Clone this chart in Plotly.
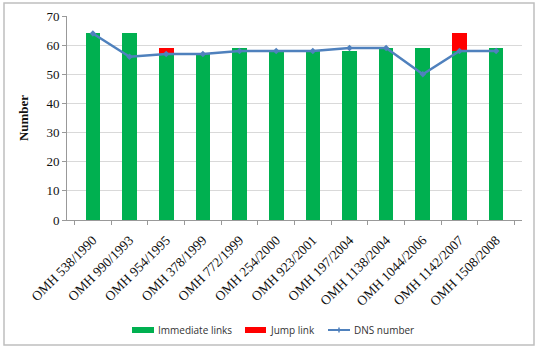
import plotly.graph_objects as go

categories = ["OMH 538/1990", "OMH 990/1993", "OMH 954/1995", "OMH 378/1999",
              "OMH 772/1999", "OMH 254/2000", "OMH 923/2001", "OMH 197/2004",
              "OMH 1138/2004", "OMH 1044/2006", "OMH 1142/2007", "OMH 1508/2008"]
immediate_links = [64, 64, 57, 57, 59, 58, 58, 58, 59, 59, 58, 59]
jump_link = [0, 0, 2, 0, 0, 0, 0, 0, 0, 0, 6, 0]
dns_number = [64, 56, 57, 57, 58, 58, 58, 59, 59, 50, 58, 58]
y_ticks = [0, 10, 20, 30, 40, 50, 60, 70]
legend_names = ["Immediate links", "Jump link", "DNS number"]
colors = ["#00B050", "#FF0000", "#4F81BD"]

L, R, T, B, W, H = 67, 24, 16, 130, 546, 350
pw, ph = W - L - R, H - T - B

def px(x):
    return (x - L) / pw

def py(y):
    return (H - B - y) / ph

fig = go.Figure()
fig.add_trace(go.Bar(x=categories, y=immediate_links, name=legend_names[0],
                     marker=dict(color=colors[0], line=dict(width=0))))
fig.add_trace(go.Bar(x=categories, y=jump_link, name=legend_names[1],
                     marker=dict(color=colors[1], line=dict(width=0))))
fig.add_trace(go.Scatter(x=categories, y=dns_number, name=legend_names[2], mode="lines+markers",
                         line=dict(color=colors[2], width=2.5),
                         marker=dict(symbol="diamond", size=5, color=colors[2])))

shapes = [dict(type="rect", xref="paper", yref="paper", x0=px(4), x1=px(534), y0=py(345), y1=py(3),
               line=dict(color="#BFBFBF", width=1.5), layer="below")]
annotations = []
legend_font = dict(family="Open Sans", size=10, color="#333")
# custom legend
ly = 330
shapes.append(dict(type="rect", xref="paper", yref="paper", x0=px(132), x1=px(154),
                   y0=py(ly + 3), y1=py(ly - 3), fillcolor=colors[0], line=dict(width=0)))
annotations.append(dict(text=legend_names[0], xref="paper", yref="paper", x=px(156), y=py(ly),
                        xanchor="left", yanchor="middle", showarrow=False, font=legend_font))
shapes.append(dict(type="rect", xref="paper", yref="paper", x0=px(245), x1=px(266),
                   y0=py(ly + 3), y1=py(ly - 3), fillcolor=colors[1], line=dict(width=0)))
annotations.append(dict(text=legend_names[1], xref="paper", yref="paper", x=px(268), y=py(ly),
                        xanchor="left", yanchor="middle", showarrow=False, font=legend_font))
shapes.append(dict(type="line", xref="paper", yref="paper", x0=px(328), x1=px(350),
                   y0=py(ly), y1=py(ly), line=dict(color=colors[2], width=2)))
shapes.append(dict(type="line", xref="paper", yref="paper", x0=px(339), x1=px(339),
                   y0=py(ly + 2.5), y1=py(ly - 2.5), line=dict(color=colors[2], width=1.5)))
annotations.append(dict(text=legend_names[2], xref="paper", yref="paper", x=px(352), y=py(ly),
                        xanchor="left", yanchor="middle", showarrow=False, font=legend_font))

fig.update_layout(
    width=W, height=H,
    barmode="stack", bargap=0.6,
    margin=dict(l=L, r=R, t=T, b=B),
    paper_bgcolor="white", plot_bgcolor="white",
    showlegend=False,
    xaxis=dict(tickangle=-45, tickfont=dict(family="Liberation Serif", size=13.5, color="#111"),
               automargin=False, ticklabelstandoff=6,
               showline=True, linecolor="#999", linewidth=1, ticks="outside",
               tickson="boundaries", ticklen=4, tickcolor="#999"),
    yaxis=dict(range=[0, 70], tickvals=y_ticks, automargin=False,
               tickfont=dict(family="Liberation Serif", size=13, color="#111"),
               showgrid=True, gridcolor="#D9D9D9", gridwidth=1,
               showline=True, linecolor="#999", linewidth=1, ticks="outside", ticklen=4, tickcolor="#999",
               title=dict(text="<b>Number</b>", font=dict(family="Liberation Serif", size=13, color="#111"),
                          standoff=14)),
    shapes=shapes,
    annotations=annotations,
)

fig.write_html("out.html", config={"displayModeBar": False},
               post_script="document.body.style.margin='0';")
